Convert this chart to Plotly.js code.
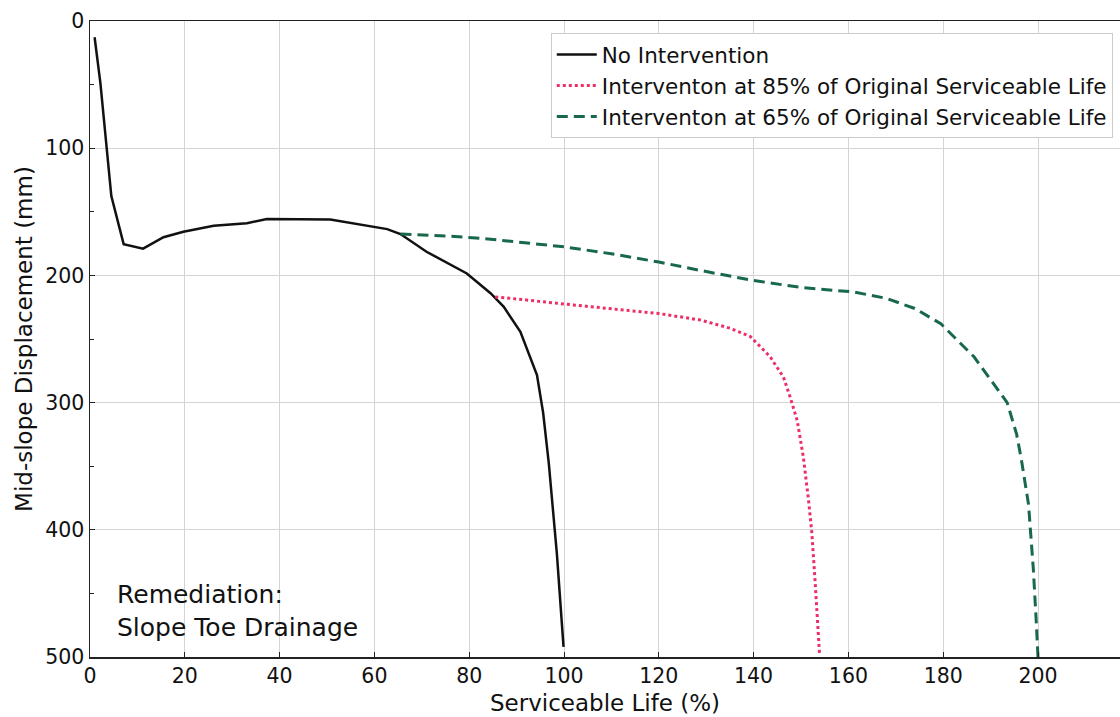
<!DOCTYPE html>
<html>
<head>
<meta charset="utf-8">
<script src="https://cdn.plot.ly/plotly-3.0.1.min.js"></script>
<style>html,body{margin:0;padding:0;background:#fff;}#chart{width:1120px;height:717px;}</style>
</head>
<body>
<div id="chart"></div>
<script>
// No Intervention
const noIntX = [0.97, 2.2, 4.5, 7.1, 11.2, 15.5, 19.7, 26.1, 33.1, 37.3, 50.7, 58.4, 62.7, 65.5, 71.0, 79.5, 84.5, 87.3, 90.8, 94.3, 95.6, 96.8, 98.5, 99.9];
const noIntY = [12.8, 49, 137.6, 175.4, 179, 170, 165.7, 161, 159, 155.7, 156, 160.5, 163.6, 167.5, 181.4, 198.5, 214, 224.7, 244.4, 278.4, 308, 348, 419, 492];

// Intervention at 85%
const int85X = [85.5, 90, 100, 110, 120, 128.7, 135, 139.3, 143.5, 146.3, 147.7, 149.2, 150.5, 151.6, 152.3, 153, 153.5, 153.9];
const int85Y = [217, 218.5, 222.5, 226, 230, 235, 241.5, 248, 264, 280, 295.5, 314, 343, 377, 403, 442, 470, 497];

// Intervention at 65%
const int65X = [65.5, 75, 83, 90, 100, 110, 120, 130, 140, 150, 161, 168, 174, 179.5, 186.5, 190, 193.5, 195.5, 196.5, 198, 199, 199.6, 200];
const int65Y = [167.5, 169, 171, 173.5, 177.5, 183, 189.5, 197, 204, 209.5, 213, 218, 226, 238, 264, 282, 300, 325, 345, 380, 430, 470, 500];

const seriesNames = ["No Intervention", "Interventon at 85% of Original Serviceable Life", "Interventon at 65% of Original Serviceable Life"];
const xTicks = [0, 20, 40, 60, 80, 100, 120, 140, 160, 180, 200];
const yTicks = [0, 100, 200, 300, 400, 500];

const FONT = "DejaVu Sans, Verdana, sans-serif";

const traces = [
  {x: noIntX, y: noIntY, name: seriesNames[0], mode: "lines",
   line: {color: "#111111", width: 2.5}},
  {x: int85X, y: int85Y, name: seriesNames[1], mode: "lines",
   line: {color: "#ee2e66", width: 3, dash: "3px,3px"}},
  {x: int65X, y: int65Y, name: seriesNames[2], mode: "lines",
   line: {color: "#17694a", width: 3, dash: "11px,6px"}}
];

const layout = {
  width: 1120, height: 717,
  margin: {l: 90, r: 0, t: 21, b: 60},
  paper_bgcolor: "#ffffff", plot_bgcolor: "#ffffff",
  font: {family: FONT, color: "#111111", size: 20},
  showlegend: true,
  legend: {
    x: 0.993, xanchor: "right", y: 0.981, yanchor: "top",
    bgcolor: "#ffffff", bordercolor: "#cccccc", borderwidth: 1,
    font: {family: FONT, size: 21.5, color: "#111111"},
    itemwidth: 40
  },
  xaxis: {
    range: [0, 217.3], tickvals: xTicks, ticktext: xTicks.map(String),
    showgrid: true, gridcolor: "#d4d4d4", gridwidth: 1,
    zeroline: false, showline: true, linecolor: "#222222", linewidth: 1.5, mirror: true,
    ticks: "inside", ticklen: 5, tickcolor: "#222222",
    tickfont: {family: FONT, size: 20.5, color: "#111111"},
    title: {text: "Serviceable Life (%)", font: {family: FONT, size: 23, color: "#111111"}, standoff: 8}
  },
  yaxis: {
    range: [500, 0], tickvals: yTicks, ticktext: yTicks.map(String),
    showgrid: true, gridcolor: "#d4d4d4", gridwidth: 1,
    zeroline: false, showline: true, linecolor: "#222222", linewidth: 1.5, mirror: true,
    ticks: "inside", ticklen: 5, tickcolor: "#222222",
    minor: {dtick: 50, ticks: "inside", ticklen: 4, tickcolor: "#222222", showgrid: false},
    tickfont: {family: FONT, size: 20.5, color: "#111111"},
    title: {text: "Mid-slope Displacement (mm)", font: {family: FONT, size: 23, color: "#111111"}, standoff: 6}
  },
  annotations: [
    {text: "Remediation:<br>Slope Toe Drainage", xref: "paper", yref: "paper", x: 0.0243, y: 0.073,
     xanchor: "left", yanchor: "middle", align: "left", showarrow: false,
     font: {family: FONT, size: 25, color: "#111111"}}
  ]
};

Plotly.newPlot("chart", traces, layout, {displayModeBar: false, staticPlot: true});
</script>
</body>
</html>
